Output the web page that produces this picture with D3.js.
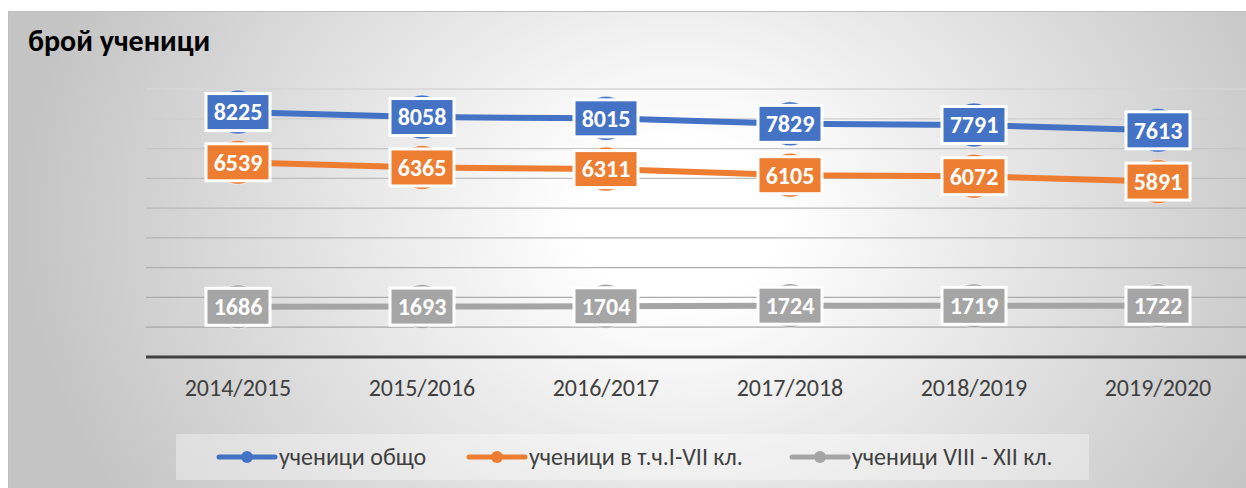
<!DOCTYPE html>
<html>
<head>
<meta charset="utf-8">
<script src="https://cdn.jsdelivr.net/npm/d3@7"></script>
<style>
    body { margin: 0; background: #ffffff; }
    text { font-family: Calibri, Carlito, "Open Sans", sans-serif; }
</style>
</head>
<body>
<div id="students"></div>
<script>
// school years on the x axis
var years = ["2014/2015", "2015/2016", "2016/2017", "2017/2018", "2018/2019", "2019/2020"];
// series names (legend)
var seriesNames = ["ученици общо", "ученици в т.ч.I-VII кл.", "ученици VIII - XII кл."];
// values per series
var totalStudents = [8225, 8058, 8015, 7829, 7791, 7613];
var gradesOneToSeven = [6539, 6365, 6311, 6105, 6072, 5891];
var gradesEightToTwelve = [1686, 1693, 1704, 1724, 1719, 1722];
var yTicks = [1000, 2000, 3000, 4000, 5000, 6000, 7000, 8000, 9000];

var colors = ["#4472C4", "#ED7D31", "#A5A5A5"];
var series = [totalStudents, gradesOneToSeven, gradesEightToTwelve];

var width = 1246
    height = 488

var svg = d3.select("#students")
    .append("svg")
    .attr("width", width)
    .attr("height", height)

// background gradient like the excel chart area
var defs = svg.append("defs")
var grad = defs.append("radialGradient")
    .attr("id", "bg")
    .attr("gradientUnits", "userSpaceOnUse")
    .attr("cx", 680).attr("cy", 220).attr("r", 660)
    .attr("gradientTransform", "translate(680,220) scale(1,0.8) translate(-680,-220)")
grad.append("stop").attr("offset", "0%").attr("stop-color", "#ffffff")
grad.append("stop").attr("offset", "15%").attr("stop-color", "#ffffff")
grad.append("stop").attr("offset", "100%").attr("stop-color", "#c4c4c4")

svg.append("rect")
    .attr("x", 8)
    .attr("y", 11)
    .attr("width", width - 8)
    .attr("height", height - 11)
    .attr("fill", "url(#bg)")
svg.append("path")
    .attr("d", "M8.5," + height + "V11.5H" + width)
    .attr("fill", "none")
    .attr("stroke", "#bfbfbf")
    .attr("stroke-width", 1)

// title
svg.append("text")
    .attr("x", 28)
    .attr("y", 51)
    .text("брой ученици")
    .style("font-weight", "bold")
    .style("font-size", "30px")
    .attr("fill", "#000")

// scales
var x = d3.scaleBand()
    .domain(years)
    .range([146, 1250])
    .padding(0)
var y = d3.scaleLinear()
    .domain([0, 9000])
    .range([357, 89])

// gridlines, lighter at the top
var gridColor = d3.scaleLinear().domain([9000, 6000, 1000]).range(["#d6d6d6", "#bdbdbd", "#a8a8a8"])
svg.append("g")
    .selectAll("line")
    .data(yTicks)
    .enter()
    .append("line")
    .attr("x1", 146)
    .attr("x2", width)
    .attr("y1", function (d) { return y(d) })
    .attr("y2", function (d) { return y(d) })
    .attr("stroke", function (d) { return gridColor(d) })
    .attr("stroke-width", 1.3)

// x axis
var xAxis = svg.append("g")
    .attr("transform", "translate(0," + y(0) + ")")
    .call(d3.axisBottom(x).tickSize(0).tickPadding(22))
xAxis.select(".domain")
    .attr("stroke", "#404040")
    .attr("stroke-width", 3)
    .attr("d", "M146,0H" + width)
xAxis.selectAll("text")
    .attr("fill", "#404040")
    .style("font-size", "24px")
    .style("font-family", "Calibri, Carlito, 'Open Sans', sans-serif")

// lines
var line = d3.line()
    .x(function (d, i) { return x(years[i]) + x.bandwidth() / 2 })
    .y(function (d) { return y(d) })

series.forEach(function (values, s) {
    var g = svg.append("g")
    g.append("path")
        .datum(values)
        .attr("d", line)
        .attr("fill", "none")
        .attr("stroke", colors[s])
        .attr("stroke-width", 6)
        .attr("stroke-linecap", "round")

    g.selectAll("circle")
        .data(values)
        .enter()
        .append("circle")
        .attr("cx", function (d, i) { return x(years[i]) + x.bandwidth() / 2 })
        .attr("cy", function (d) { return y(d) })
        .attr("r", 22)
        .attr("fill", colors[s])
        .attr("stroke", "#ffffff")
        .attr("stroke-opacity", 0.5)

    // data label boxes
    g.selectAll("rect")
        .data(values)
        .enter()
        .append("rect")
        .attr("x", function (d, i) { return x(years[i]) + x.bandwidth() / 2 - 32 })
        .attr("y", function (d) { return y(d) - 18.5 })
        .attr("width", 64)
        .attr("height", 37)
        .attr("fill", colors[s])
        .attr("stroke", "#ffffff")
        .attr("stroke-width", 3)

    g.selectAll("text")
        .data(values)
        .enter()
        .append("text")
        .attr("x", function (d, i) { return x(years[i]) + x.bandwidth() / 2 })
        .attr("y", function (d) { return y(d) })
        .attr("dy", "0.35em")
        .attr("text-anchor", "middle")
        .attr("fill", "#ffffff")
        .style("font-weight", "bold")
        .style("font-size", "24px")
        .text(function (d) { return d })
})

// legend
svg.append("rect")
    .attr("x", 176)
    .attr("y", 434)
    .attr("width", 913)
    .attr("height", 46)
    .attr("fill", "#ffffff")
    .attr("opacity", 0.35)

var legendX = [219, 469, 792]
var legend = svg.selectAll("legendItems")
    .data(seriesNames)
    .enter()
    .append("g")
    .attr("transform", function (d, i) { return "translate(" + legendX[i] + ",457)" })
legend.append("line")
    .attr("x1", 0).attr("x2", 56)
    .attr("stroke", function (d, i) { return colors[i] })
    .attr("stroke-width", 5)
    .attr("stroke-linecap", "round")
legend.append("circle")
    .attr("cx", 28)
    .attr("r", 6)
    .attr("fill", function (d, i) { return colors[i] })
legend.append("text")
    .attr("x", 60)
    .attr("dy", "0.35em")
    .attr("fill", "#404040")
    .style("font-size", "24px")
    .text(function (d) { return d })
</script>
</body>
</html>
